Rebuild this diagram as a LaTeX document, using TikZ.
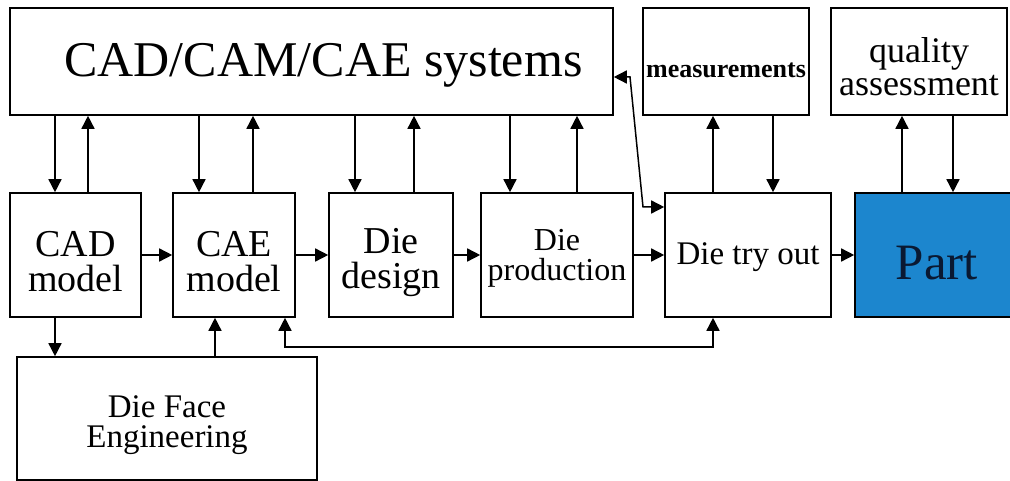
\documentclass[tikz,border=0pt]{standalone}
\usepackage{fontspec}
\setmainfont{Liberation Serif}
\usetikzlibrary{arrows.meta,calc}
\definecolor{partblue}{RGB}{28,134,206}
\definecolor{parttext}{RGB}{10,25,50}
\begin{document}
\begin{tikzpicture}[x=1pt,y=-1pt,
  box/.style={draw=black,line width=1.6pt,rectangle,inner sep=0pt,fill=white},
  txt/.style={align=center,inner sep=0pt},
  tip/.style={},
  arr/.style={line width=1.5pt,-{Triangle[length=13pt,width=13pt]}},
  darr/.style={line width=1.5pt,{Triangle[length=13pt,width=13pt]}-{Triangle[length=13pt,width=13pt]}}]
\useasboundingbox (0,0) rectangle (1010,481);
\fill[white] (0,0) rectangle (1010,481);
% top row
\node[box,minimum width=603pt,minimum height=107pt,
  label={[txt,font=\fontsize{50}{50}\selectfont,xshift=12pt,yshift=-4pt]center:CAD/CAM/CAE systems}] (sys) at (311.5,61.5) {};
\node[box,minimum width=166pt,minimum height=107pt,
  label={[txt,font=\fontsize{26}{28}\selectfont\bfseries,yshift=-9pt]center:measurements}] (meas) at (726,61.5) {};
\node[box,minimum width=176pt,minimum height=107pt,
  label={[txt,font=\fontsize{36}{33}\selectfont,yshift=-5pt]center:quality\\assessment}] (qual) at (919,61.5) {};
% middle row
\node[box,minimum width=131pt,minimum height=124pt,
  label={[txt,font=\fontsize{38}{35}\selectfont,yshift=-7pt]center:CAD\\model}] (cadm) at (75.5,255) {};
\node[box,minimum width=122pt,minimum height=124pt,
  label={[txt,font=\fontsize{38}{35}\selectfont,yshift=-7pt]center:CAE\\model}] (caem) at (234,255) {};
\node[box,minimum width=124pt,minimum height=124pt,
  label={[txt,font=\fontsize{38}{35}\selectfont,yshift=-8pt]center:Die\\design}] (died) at (391,255) {};
\node[box,minimum width=152pt,minimum height=124pt,
  label={[txt,font=\fontsize{32}{30}\selectfont,yshift=-3pt]center:Die\\production}] (diep) at (557,255) {};
\node[box,minimum width=166pt,minimum height=124pt,
  label={[txt,font=\fontsize{33}{33}\selectfont,yshift=-2pt]center:Die try out}] (diet) at (748,255) {};
\node[box,fill=partblue,minimum width=158pt,minimum height=124pt,
  label={[txt,font=\fontsize{51}{50}\selectfont,text=parttext,xshift=3pt,yshift=-8pt]center:Part}] (part) at (934,255) {};
% bottom
\node[box,minimum width=300pt,minimum height=123pt,
  label={[txt,font=\fontsize{33}{30}\selectfont,yshift=-7pt]center:Die Face\\Engineering}] (dfe) at (167,418.5) {};
% x positions of vertical connectors
\coordinate (x1) at (55,0);
\coordinate (x2) at (88,0);
\coordinate (x3) at (199,0);
\coordinate (x4) at (253,0);
\coordinate (x5) at (355,0);
\coordinate (x6) at (414,0);
\coordinate (x7) at (510,0);
\coordinate (x8) at (577,0);
\coordinate (x9) at (713,0);
\coordinate (x10) at (773,0);
\coordinate (x11) at (902,0);
\coordinate (x12) at (953,0);
\coordinate (x13) at (215,0);
\coordinate (x14) at (285,0);
% system <-> middle row
\draw[arr] (x1 |- sys.south) -- (x1 |- cadm.north);
\draw[arr] (x2 |- cadm.north) -- (x2 |- sys.south);
\draw[arr] (x3 |- sys.south) -- (x3 |- caem.north);
\draw[arr] (x4 |- caem.north) -- (x4 |- sys.south);
\draw[arr] (x5 |- sys.south) -- (x5 |- died.north);
\draw[arr] (x6 |- died.north) -- (x6 |- sys.south);
\draw[arr] (x7 |- sys.south) -- (x7 |- diep.north);
\draw[arr] (x8 |- diep.north) -- (x8 |- sys.south);
\draw[arr] (x9 |- diet.north) -- (x9 |- meas.south);
\draw[arr] (x10 |- meas.south) -- (x10 |- diet.north);
\draw[arr] (x11 |- part.north) -- (x11 |- qual.south);
\draw[arr] (x12 |- qual.south) -- (x12 |- part.north);
% horizontal chain
\draw[arr] (cadm.east) -- (caem.west);
\draw[arr] (caem.east) -- (died.west);
\draw[arr] (died.east) -- (diep.west);
\draw[arr] (diep.east) -- (diet.west);
\draw[arr] (diet.east) -- (part.west);
% die face engineering
\draw[arr] (x1 |- cadm.south) -- (x1 |- dfe.north);
\draw[arr] (x13 |- dfe.north) -- (x13 |- caem.south);
% try out feedback to CAE
\coordinate (yb) at (0,347);
\draw[darr] (x9 |- diet.south) -- (x9 |- yb) -- (x14 |- yb) -- (x14 |- caem.south);
% diagonal link system <-> try out
\coordinate (k1) at (630,77);
\coordinate (k2) at (643,207);
\draw[darr] (sys.east |- k1) -- (k1) -- (k2) -- (diet.west |- k2);
\end{tikzpicture}
\end{document}
